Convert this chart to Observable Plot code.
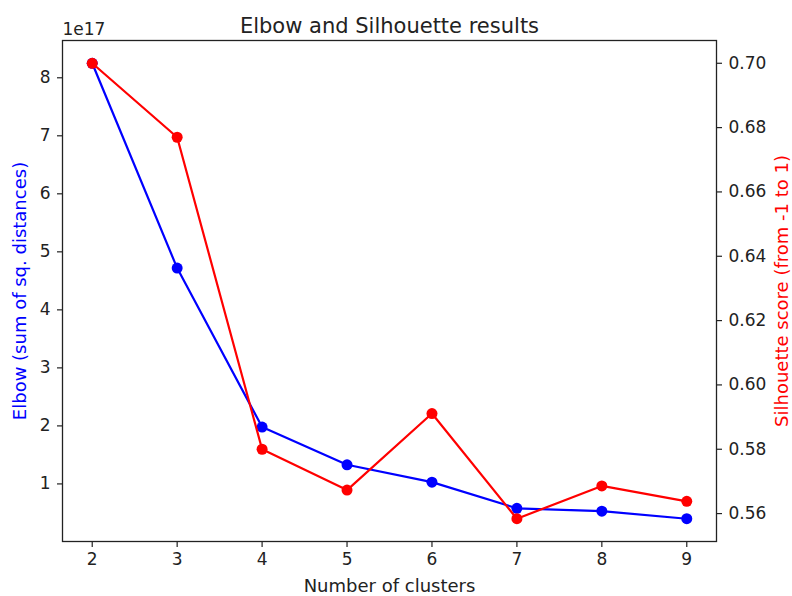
<!DOCTYPE html>
<html>
<head>
<meta charset="utf-8">
<script src="https://cdn.jsdelivr.net/npm/d3@7"></script>
<script src="https://cdn.jsdelivr.net/npm/@observablehq/plot@0.6"></script>
<style>
  html, body { margin: 0; padding: 0; background: white; }
  #chart { width: 792px; height: 596px; }
</style>
</head>
<body>
<div id="chart"></div>
<script>
const clusters = [2, 3, 4, 5, 6, 7, 8, 9];
const elbow = [8.25e17, 4.72e17, 1.98e17, 1.33e17, 1.03e17, 0.58e17, 0.53e17, 0.40e17];
const silhouette = [0.700, 0.677, 0.580, 0.5673, 0.5911, 0.5584, 0.5686, 0.5638];
const xTicks = [2, 3, 4, 5, 6, 7, 8, 9];
const elbowTicks = [1e17, 2e17, 3e17, 4e17, 5e17, 6e17, 7e17, 8e17];
const silTicks = [0.56, 0.58, 0.60, 0.62, 0.64, 0.66, 0.68, 0.70];

const data = clusters.map((k, i) => ({k, elbow: elbow[i], sil: silhouette[i]}));

// matplotlib-like 5% margins
function padded(vals) {
  const [lo, hi] = d3.extent(vals);
  const m = (hi - lo) * 0.05;
  return [lo - m, hi + m];
}
const xDom = padded(clusters);
const yDom = padded(elbow);
const sDom = padded(silhouette);
const s2y = d3.scaleLinear(sDom, yDom);

const font = "DejaVu Sans";
const FS = 17;
const LS = 18;

const chart = Plot.plot({
  width: 792,
  height: 596,
  marginLeft: 62,
  marginRight: 76,
  marginTop: 40,
  marginBottom: 55,
  style: {fontFamily: font, fontSize: FS + "px", background: "white", color: "#222"},
  x: {domain: xDom},
  y: {domain: yDom},
  marks: [
    Plot.axisX(xTicks, {tickSize: 6, tickPadding: 5, label: null, fontSize: FS, strokeWidth: 1.2, tickFormat: d => String(d)}),
    Plot.axisY(elbowTicks, {tickSize: 5, tickPadding: 7, label: null, fontSize: FS, strokeWidth: 1.2, tickFormat: d => String(Math.round(d / 1e17))}),
    Plot.axisY(silTicks, {anchor: "right", y: d => s2y(d), tickSize: 5, tickPadding: 7, label: null, fontSize: FS, strokeWidth: 1.2, tickFormat: d => d.toFixed(2)}),
    Plot.lineY(data, {x: "k", y: "elbow", stroke: "blue", strokeWidth: 2.2}),
    Plot.dot(data, {x: "k", y: "elbow", fill: "blue", r: 5.5}),
    Plot.lineY(data, {x: "k", y: d => s2y(d.sil), stroke: "red", strokeWidth: 2.2}),
    Plot.dot(data, {x: "k", y: d => s2y(d.sil), fill: "red", r: 5.5}),
    Plot.frame({stroke: "#222", strokeWidth: 1.3}),
    Plot.text(["Elbow and Silhouette results"], {text: d => d, frameAnchor: "top", textAnchor: "middle", lineAnchor: "middle", dy: -14.5, fontSize: 21, fill: "#222"}),
    Plot.text(["1e17"], {text: d => d, frameAnchor: "top-left", textAnchor: "start", lineAnchor: "middle", dy: -11, fontSize: FS, fill: "#222"}),
    Plot.text(["Number of clusters"], {text: d => d, frameAnchor: "bottom", textAnchor: "middle", lineAnchor: "middle", dy: 45, fontSize: LS, fill: "#222"}),
    Plot.text(["Elbow (sum of sq. distances)"], {text: d => d, frameAnchor: "left", textAnchor: "middle", rotate: -90, lineAnchor: "middle", dx: -42, fontSize: LS, fill: "blue"}),
    Plot.text(["Silhouette score (from -1 to 1)"], {text: d => d, frameAnchor: "right", textAnchor: "middle", rotate: -90, lineAnchor: "middle", dx: 66, fontSize: LS, fill: "red"})
  ]
});
document.getElementById("chart").appendChild(chart);
</script>
</body>
</html>
